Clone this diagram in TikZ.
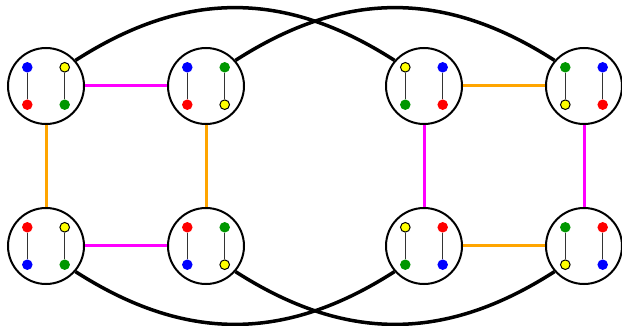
\documentclass[tikz,border=0pt]{standalone}
\usetikzlibrary{calc}
\definecolor{cblue}{RGB}{0,0,255}
\definecolor{cred}{RGB}{255,0,0}
\definecolor{cgreen}{RGB}{0,150,0}
\definecolor{cyellow}{RGB}{255,255,0}
\definecolor{cmag}{RGB}{255,0,255}
\definecolor{corange}{RGB}{255,165,0}
\tikzset{
  hub/.style={circle, draw=black, line width=2pt, fill=white, minimum size=76pt, inner sep=0pt},
  dotB/.style={circle, inner sep=0pt, minimum size=10.5pt, fill=cblue},
  dotR/.style={circle, inner sep=0pt, minimum size=10.5pt, fill=cred},
  dotG/.style={circle, inner sep=0pt, minimum size=10.5pt, fill=cgreen},
  dotY/.style={circle, inner sep=0pt, minimum size=9.6pt, fill=cyellow, draw=black, line width=1pt},
  pair/.style={draw=black!80, line width=1.3pt},
  magedge/.style={draw=cmag, line width=3pt},
  orgedge/.style={draw=corange, line width=3pt},
  arcedge/.style={draw=black, line width=3.5pt},
}
\newcommand{\myhub}[7]{%
  \node[hub] (#1) at (#2,#3) {};
  \node[dot#4] (#1-tl) at ($(#1)+(-18.7,-18.7)$) {};
  \node[dot#5] (#1-tr) at ($(#1)+(18.7,-18.7)$) {};
  \node[dot#6] (#1-bl) at ($(#1)+(-18.7,18.7)$) {};
  \node[dot#7] (#1-br) at ($(#1)+(18.7,18.7)$) {};
  \draw[pair] (#1-tl) -- (#1-bl);
  \draw[pair] (#1-tr) -- (#1-br);
}
\begin{document}
\begin{tikzpicture}[x=1pt,y=-1pt]
\useasboundingbox (0,0) rectangle (622,326);
\myhub{c1}{46}{86}{B}{Y}{R}{G}
\myhub{c2}{206}{86}{B}{G}{R}{Y}
\myhub{c3}{424}{86}{Y}{B}{G}{R}
\myhub{c4}{584}{86}{G}{B}{Y}{R}
\myhub{c5}{46}{246}{R}{Y}{B}{G}
\myhub{c6}{206}{246}{R}{G}{B}{Y}
\myhub{c7}{424}{246}{Y}{R}{G}{B}
\myhub{c8}{584}{246}{G}{R}{Y}{B}
% colored connectors
\draw[magedge] (c1) -- (c2);
\draw[magedge] (c5) -- (c6);
\draw[magedge] (c3) -- (c7);
\draw[magedge] (c4) -- (c8);
\draw[orgedge] (c1) -- (c5);
\draw[orgedge] (c2) -- (c6);
\draw[orgedge] (c3) -- (c4);
\draw[orgedge] (c7) -- (c8);
% black arcs
\draw[arcedge] (c1.41) .. controls (185,-10) and (285,-10) .. (c3.139);
\draw[arcedge] (c2.41) .. controls (345,-10) and (445,-10) .. (c4.139);
\draw[arcedge] (c5.-41) .. controls (185,342) and (285,342) .. (c7.-139);
\draw[arcedge] (c6.-41) .. controls (345,342) and (445,342) .. (c8.-139);
\end{tikzpicture}
\end{document}
